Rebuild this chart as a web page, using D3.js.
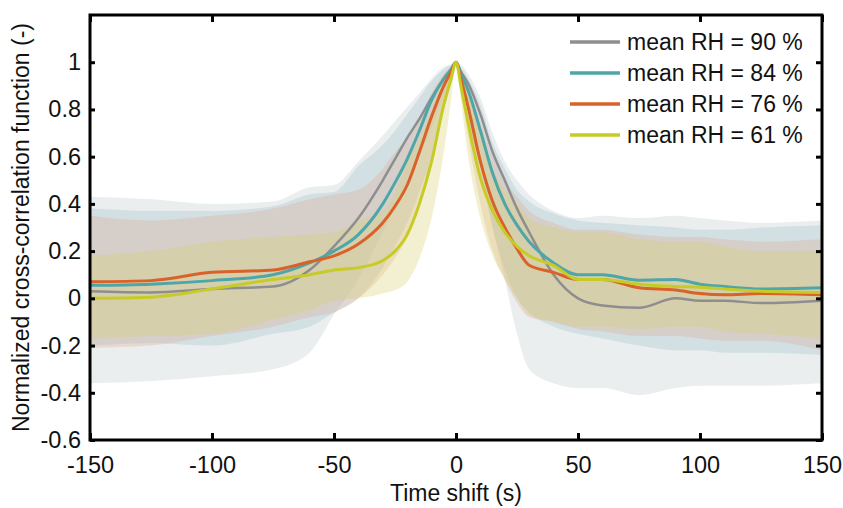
<!DOCTYPE html>
<html>
<head>
<meta charset="utf-8">
<style>
    body { margin: 0; background: #fff; }
    svg { display: block; }
    text { font-family: Arial, "Liberation Sans", sans-serif; fill: #111; }
    .tick-label { font-size: 23.5px; }
    .axis-title { font-size: 23px; }
    .legend text { font-size: 23px; }
</style>
</head>
<body>
<svg width="843" height="508"></svg>

<script src="https://d3js.org/d3.v7.min.js"></script>
<script>
// time shift (s)
let shifts = [-150, -125, -100, -75, -60, -50, -40, -30, -25, -20, -15, -10, -5, -2, 0,
              2, 5, 10, 15, 20, 25, 30, 40, 50, 60, 75, 90, 100, 110, 125, 150]

let labels = ["mean RH = 90 %", "mean RH = 84 %", "mean RH = 76 %", "mean RH = 61 %"]
let lineColors = ["#8e8e90", "#4ea6a8", "#d8622a", "#c6cb26"]
let bandColors = ["#c6cfd3", "#9dc1c7", "#e0a890", "#d8d06e"]
let bandOpacity = [0.36, 0.3, 0.3, 0.32]

// mean curves
let rh90 = [0.03, 0.025, 0.04, 0.05, 0.12, 0.22, 0.34, 0.5, 0.59, 0.68, 0.76, 0.85, 0.93, 0.97, 1.0,
            0.96, 0.91, 0.78, 0.62, 0.5, 0.38, 0.28, 0.1, 0.0, -0.03, -0.04, 0.0, -0.01, -0.01, -0.02, -0.01]
let rh84 = [0.055, 0.06, 0.075, 0.1, 0.15, 0.2, 0.27, 0.4, 0.49, 0.59, 0.71, 0.84, 0.93, 0.97, 1.0,
            0.95, 0.88, 0.71, 0.53, 0.4, 0.31, 0.24, 0.15, 0.1, 0.1, 0.077, 0.08, 0.06, 0.05, 0.04, 0.045]
let rh76 = [0.07, 0.075, 0.11, 0.12, 0.155, 0.18, 0.23, 0.32, 0.39, 0.48, 0.62, 0.77, 0.9, 0.96, 1.0,
            0.93, 0.81, 0.58, 0.41, 0.3, 0.21, 0.14, 0.11, 0.08, 0.08, 0.045, 0.035, 0.02, 0.015, 0.02, 0.015]
let rh61 = [0.0, 0.005, 0.04, 0.08, 0.1, 0.12, 0.13, 0.16, 0.2, 0.27, 0.4, 0.58, 0.82, 0.93, 1.0,
            0.9, 0.74, 0.51, 0.37, 0.28, 0.22, 0.18, 0.14, 0.08, 0.08, 0.06, 0.05, 0.047, 0.04, 0.03, 0.025]

// shaded ranges
let rh90Upper = [0.43, 0.42, 0.4, 0.41, 0.47, 0.48, 0.58, 0.69, 0.75, 0.81, 0.87, 0.93, 0.98, 0.99, 1.0,
                 0.99, 0.95, 0.85, 0.7, 0.58, 0.5, 0.44, 0.37, 0.34, 0.35, 0.34, 0.35, 0.34, 0.33, 0.32, 0.33]
let rh90Lower = [-0.36, -0.35, -0.33, -0.3, -0.23, -0.07, 0.08, 0.28, 0.38, 0.5, 0.6, 0.72, 0.86, 0.94, 1.0,
                 0.9, 0.74, 0.56, 0.3, 0.08, -0.15, -0.3, -0.36, -0.38, -0.38, -0.41, -0.38, -0.37, -0.37, -0.37, -0.36]
let rh84Upper = [0.38, 0.37, 0.37, 0.39, 0.44, 0.45, 0.56, 0.65, 0.71, 0.78, 0.85, 0.92, 0.97, 0.99, 1.0,
                 0.98, 0.93, 0.82, 0.66, 0.55, 0.46, 0.41, 0.36, 0.33, 0.32, 0.31, 0.3, 0.29, 0.29, 0.3, 0.31]
let rh84Lower = [-0.2, -0.19, -0.2, -0.15, -0.12, -0.06, 0.0, 0.13, 0.22, 0.32, 0.45, 0.6, 0.8, 0.92, 1.0,
                 0.9, 0.76, 0.54, 0.3, 0.12, 0.0, -0.06, -0.12, -0.15, -0.17, -0.2, -0.22, -0.22, -0.23, -0.23, -0.24]
let rh76Upper = [0.35, 0.33, 0.35, 0.38, 0.42, 0.44, 0.46, 0.55, 0.62, 0.68, 0.77, 0.87, 0.95, 0.98, 1.0,
                 0.97, 0.9, 0.75, 0.6, 0.5, 0.43, 0.37, 0.32, 0.29, 0.29, 0.27, 0.26, 0.26, 0.25, 0.24, 0.25]
let rh76Lower = [-0.21, -0.2, -0.16, -0.12, -0.08, -0.06, 0.0, 0.1, 0.17, 0.26, 0.4, 0.6, 0.8, 0.92, 1.0,
                 0.88, 0.68, 0.4, 0.2, 0.08, -0.02, -0.08, -0.1, -0.13, -0.14, -0.16, -0.16, -0.17, -0.18, -0.18, -0.22]
let rh61Upper = [0.18, 0.2, 0.24, 0.26, 0.27, 0.28, 0.33, 0.37, 0.45, 0.58, 0.68, 0.8, 0.93, 0.98, 1.0,
                 0.97, 0.9, 0.7, 0.55, 0.46, 0.4, 0.34, 0.3, 0.28, 0.28, 0.25, 0.24, 0.24, 0.22, 0.2, 0.2]
let rh61Lower = [-0.17, -0.16, -0.15, -0.09, -0.05, -0.01, 0.0, 0.02, 0.035, 0.07, 0.17, 0.34, 0.62, 0.84, 1.0,
                 0.84, 0.6, 0.34, 0.18, 0.08, 0.0, -0.07, -0.1, -0.12, -0.12, -0.13, -0.12, -0.12, -0.14, -0.15, -0.17]

let xTicks = [-150, -100, -50, 0, 50, 100, 150]
let yTicks = [-0.6, -0.4, -0.2, 0, 0.2, 0.4, 0.6, 0.8, 1]

let means = [rh90, rh84, rh76, rh61]
let uppers = [rh90Upper, rh84Upper, rh76Upper, rh61Upper]
let lowers = [rh90Lower, rh84Lower, rh76Lower, rh61Lower]

let margin = { top: 15, right: 21, bottom: 68, left: 90 }
let width = 843
let height = 508

let svg = d3.select("svg")

let x = d3.scaleLinear()
    .domain([-150, 150])
    .range([margin.left, width - margin.right])

let y = d3.scaleLinear()
    .domain([-0.6, 1.2])
    .range([height - margin.bottom, margin.top])

let fmt = d => d3.format("")(d).replace("\u2212", "-")

let series = means.map((m, i) => shifts.map((t, j) => ({
    t: t, mean: m[j], lo: lowers[i][j], hi: uppers[i][j]
})))

let band = d3.area()
    .x(d => x(d.t))
    .y0(d => y(d.lo))
    .y1(d => y(d.hi))
    .curve(d3.curveMonotoneX)

let line = d3.line()
    .x(d => x(d.t))
    .y(d => y(d.mean))
    .curve(d3.curveMonotoneX)

svg.append("g")
    .selectAll("path")
    .data(series)
    .join("path")
    .attr("d", band)
    .attr("fill", (d, i) => bandColors[i])
    .attr("fill-opacity", (d, i) => bandOpacity[i])

svg.append("g")
    .selectAll("path")
    .data(series)
    .join("path")
    .attr("d", line)
    .attr("fill", "none")
    .attr("stroke", (d, i) => lineColors[i])
    .attr("stroke-width", (d, i) => i == 0 ? 2.5 : 3)
    .attr("stroke-linejoin", "round")

// axes: boxed with inward ticks on all sides
let x0 = x.range()[0], x1 = x.range()[1]
let y0 = y.range()[0], y1 = y.range()[1]

svg.append("g")
    .attr("transform", `translate(0,${y0})`)
    .call(d3.axisBottom(x).tickValues(xTicks).tickSize(-7).tickPadding(16).tickFormat(fmt))
    .call(g => g.select(".domain").remove())
    .call(g => g.selectAll(".tick text").attr("class", "tick-label").attr("fill", "#111"))

svg.append("g")
    .attr("transform", `translate(0,${y1})`)
    .call(d3.axisTop(x).tickValues(xTicks).tickSize(-7).tickFormat(""))
    .call(g => g.select(".domain").remove())

svg.append("g")
    .attr("transform", `translate(${x0},0)`)
    .call(d3.axisLeft(y).tickValues(yTicks).tickSize(-5).tickPadding(9).tickFormat(fmt))
    .call(g => g.select(".domain").remove())
    .call(g => g.selectAll(".tick text").attr("class", "tick-label").attr("fill", "#111"))

svg.append("g")
    .attr("transform", `translate(${x1},0)`)
    .call(d3.axisRight(y).tickValues(yTicks).tickSize(-6).tickFormat(""))
    .call(g => g.select(".domain").remove())

svg.selectAll(".tick line")
    .attr("stroke", "#000")
    .attr("stroke-width", 3)

svg.append("rect")
    .attr("x", x0)
    .attr("y", y1)
    .attr("width", x1 - x0)
    .attr("height", y0 - y1)
    .attr("fill", "none")
    .attr("stroke", "#000")
    .attr("stroke-width", 3)

svg.append("text")
    .attr("class", "axis-title")
    .attr("x", (x0 + x1) / 2)
    .attr("y", 501)
    .attr("text-anchor", "middle")
    .text("Time shift (s)")

svg.append("text")
    .attr("class", "axis-title")
    .attr("transform", `translate(29,${(y0 + y1) / 2}) rotate(-90)`)
    .attr("text-anchor", "middle")
    .text("Normalized cross-correlation function (-)")

// legend
let legend = svg.append("g")
    .attr("class", "legend")
    .selectAll("g")
    .data(labels)
    .join("g")
    .attr("transform", (d, i) => `translate(570,${42 + i * 31})`)

legend.append("line")
    .attr("x1", 0)
    .attr("x2", 50)
    .attr("stroke", (d, i) => lineColors[i])
    .attr("stroke-width", 3.5)

legend.append("text")
    .attr("x", 57)
    .attr("dy", "0.36em")
    .text(d => d)
</script>
</body>
</html>
